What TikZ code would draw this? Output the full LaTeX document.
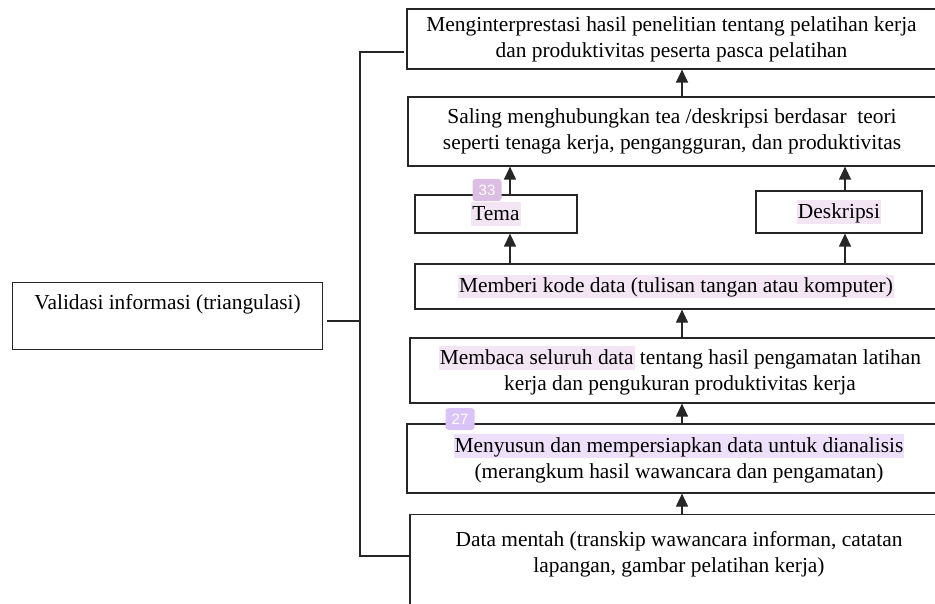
\documentclass[tikz,border=0pt]{standalone}
\usepackage{fontspec}
\setmainfont{Liberation Serif}
\newfontfamily\angka{Liberation Sans}
\usetikzlibrary{arrows.meta}

\definecolor{tinta}{HTML}{262626}
\definecolor{hlmerah}{HTML}{F3E5F3}
\definecolor{hlungu}{HTML}{EEDFFB}
\definecolor{lencanaA}{HTML}{DCBEE4}
\definecolor{lencanaB}{HTML}{DAC4F7}

\tikzset{
  kotak/.style={draw=tinta, line width=1.2pt, inner sep=0pt, align=center},
  panah/.style={draw=tinta, line width=1.2pt, -{Triangle[width=12pt,length=13pt]}},
  garis/.style={draw=tinta, line width=1.2pt},
  lencana/.style={rounded corners=3pt, minimum width=29pt, minimum height=22pt,
    inner sep=0pt, text=white, font=\angka\fontsize{15}{15}\selectfont}
}
\newcommand\tandai[2]{{\setlength{\fboxsep}{1pt}\colorbox{#1}{\rule[-4.5pt]{0pt}{21.5pt}#2}}}

\begin{document}
\begin{tikzpicture}[x=1pt, y=-1pt, font=\fontsize{21.4}{26}\selectfont]
  \useasboundingbox (0,0) rectangle (935,604);
  \clip (0,0) rectangle (935,604);
  \fill[white] (0,0) rectangle (935,604);

  % kotak utama
  \node[kotak, minimum width=529pt, minimum height=60pt] (tafsir) at (671.5,39)
    {Menginterprestasi hasil penelitian tentang pelatihan kerja\\dan produktivitas peserta pasca pelatihan};
  \node[kotak, minimum width=528pt, minimum height=69pt] (saling) at (672,131.5)
    {Saling menghubungkan tea /deskripsi berdasar\ \ teori\\seperti tenaga kerja, pengangguran, dan produktivitas};
  \node[kotak, minimum width=162pt, minimum height=38pt] (tema) at (496,214)
    {\tandai{hlmerah}{Tema}};
  \node[kotak, minimum width=166pt, minimum height=42pt] (deskripsi) at (839,212)
    {\tandai{hlmerah}{Deskripsi}};
  \node[kotak, minimum width=522pt, minimum height=45pt] (kode) at (676,286.5)
    {\tandai{hlmerah}{Memberi kode data (tulisan tangan atau komputer)}};
  \node[kotak, minimum width=540pt, minimum height=65pt] (membaca) at (680,370.5)
    {\tandai{hlmerah}{Membaca seluruh data} tentang hasil pengamatan latihan\\kerja dan pengukuran produktivitas kerja};
  \node[kotak, minimum width=544pt, minimum height=69pt] (menyusun) at (679,458.5)
    {\tandai{hlungu}{Menyusun dan mempersiapkan data untuk dianalisis}\\(merangkum hasil wawancara dan pengamatan)};
  \node[kotak, anchor=north, minimum width=538pt, text height=58pt, text depth=74pt] (mentah) at (679,514)
    {Data mentah (transkip wawancara informan, catatan\\lapangan, gambar pelatihan kerja)};
  \node[kotak, anchor=north west, minimum width=310pt, text height=27pt, text depth=40pt] (validasi) at (12,282)
    {Validasi informasi (triangulasi)};

  % panah
  \coordinate (tengah) at (682,0);
  \coordinate (kiri) at (510,0);
  \coordinate (kanan) at (845,0);
  \foreach \dari/\ke in {saling/tafsir, membaca/kode, menyusun/membaca, mentah/menyusun}
    \draw[panah] (\dari.north -| tengah) -- (\ke.south -| tengah);
  \foreach \sub/\kol in {tema/kiri, deskripsi/kanan} {
    \draw[panah] (kode.north -| \kol) -- (\sub.south -| \kol);
    \draw[panah] (\sub.north -| \kol) -- (saling.south -| \kol);
  }

  % garis validasi
  \coordinate (sudut) at (360,556);
  \coordinate (cabang) at (360,321);
  \draw[garis, shorten <=2pt] ([yshift=-13pt]tafsir.west) -| (sudut) -- (mentah.west |- sudut);
  \draw[garis, shorten <=4pt] (validasi.east |- cabang) -- (cabang);

  % penanda
  \node[lencana, fill=lencanaA] (no33) at (487,190) {33};
  \node[lencana, fill=lencanaB] (no27) at (460,419) {27};
\end{tikzpicture}
\end{document}
